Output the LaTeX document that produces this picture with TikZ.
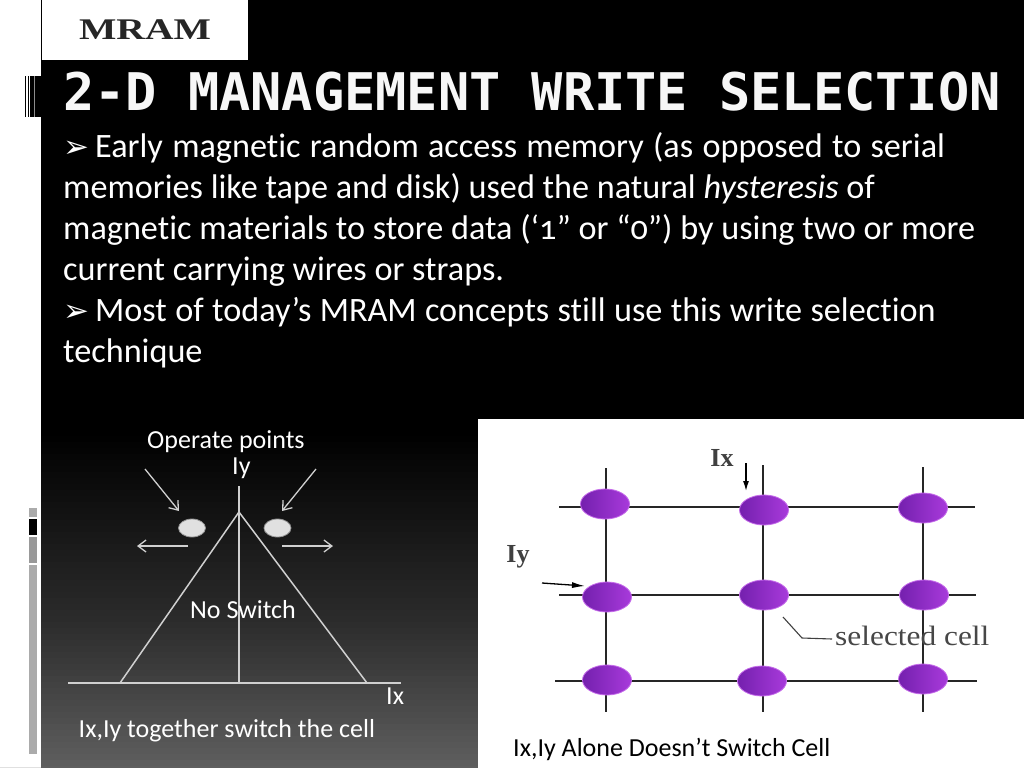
\documentclass[tikz,border=0pt]{standalone}
\usepackage{fontspec}
\setmainfont{Carlito}[Ligatures=CommonOff,Numbers=OldStyle]
\newfontfamily\titlefont{DejaVu Sans Mono}[BoldFont={DejaVu Sans Mono Bold}]
\newfontfamily\logofont{Liberation Serif}
\newfontfamily\symfont{DejaVu Sans}
\usetikzlibrary{arrows.meta,shapes.geometric}
\definecolor{grline}{HTML}{D0D0D0}
\definecolor{celldark}{HTML}{7420AE}
\definecolor{celllight}{HTML}{A83ADB}
\definecolor{celledge}{HTML}{C56BEA}
\newcommand{\bul}{\makebox[32pt][l]{\symfont\fontsize{31}{41}\selectfont ➢}}
\tikzset{
  x=1pt,y=-1pt,
  body/.style={anchor=base west,text=white,inner sep=0,font=\fontsize{34.2}{41}\selectfont},
  small/.style={anchor=base west,text=white,inner sep=0,font=\fontsize{26}{28}\selectfont},
  darktext/.style={anchor=base west,text=black,inner sep=0,font=\fontsize{26}{28}\selectfont},
  figline/.style={draw=grline,line width=1.5pt},
  figarrow/.style={draw=grline,line width=1.3pt,-{Straight Barb[length=8pt,width=12pt]}},
  opdot/.style={ellipse,draw=gray!85,line width=.8pt,fill=black!12,minimum width=27pt,minimum height=18pt,inner sep=0},
  wire/.style={draw=black!85,line width=1.2pt},
  cell/.style={ellipse,draw=celledge,line width=.8pt,left color=celldark,right color=celllight,minimum width=49pt,minimum height=30pt,inner sep=0},
  serifl/.style={text=black!75,inner sep=0,font=\logofont\bfseries\fontsize{26}{26}\selectfont},
}
\begin{document}
\begin{tikzpicture}
\useasboundingbox (0,0) rectangle (1024,768);
\fill[white] (0,0) rectangle (1024,768);
\fill[black!12] (0,766.5) rectangle (41,768);
% slide background
\fill[black] (41,0) rectangle (1024,768);
\foreach \y in {430,436,...,766}{
  \pgfmathsetmacro{\lev}{(\y<620 ? (\y-430)*0.232 : 44+(\y-620)*0.351)/2.55}
  \fill[white!\lev!black] (41,\y) rectangle (1024,768);
}
% logo
\fill[white] (42,0) rectangle (248,60);
\node[text=black!85,font=\logofont\bfseries\fontsize{30}{30}\selectfont,inner sep=0,xscale=1.32] (logo) at (145,30) {MRAM};
% left strip
\fill[black] (25,76) rectangle (26,117);
\fill[black] (27.5,76) rectangle (28.5,117);
\fill[black] (29.5,76) rectangle (33.5,117);
\fill[black!45] (34,76) rectangle (35,117);
\fill[black] (35,76) rectangle (41,117);
\fill[black!33] (28.5,508) rectangle (37,517);
\fill[black] (28.5,519) rectangle (37,534.5);
\fill[black!40] (28.5,537) rectangle (37,562.5);
\fill[black!33] (28.5,565) rectangle (37,754);
% title
\node[anchor=base west,inner sep=0,text=black!3,font=\titlefont\bfseries\fontsize{51.9}{52}\selectfont] (title) at (63,110) {2-D MANAGEMENT WRITE SELECTION};
% body
\node[body] (l1) at (63,157) {\spaceskip=9.3pt\bul Early magnetic random access memory (as opposed to serial};
\node[body] (l2) at (63,198) {memories like tape and disk) used the natural \textit{hysteresis} of};
\node[body] (l3) at (63,239) {magnetic materials to store data (‘1” or “0”) by using two or more};
\node[body] (l4) at (63,280) {current carrying wires or straps.};
\node[body] (l5) at (63,321) {\spaceskip=8.4pt\bul Most of today’s MRAM concepts still use this write selection};
\node[body] (l6) at (63,362) {technique};
% left figure
\node[small] (op) at (147,448) {Operate points};
\node[small] (iy) at (232,474) {Iy};
\coordinate (apex) at (239,512);
\coordinate (top) at (239,486);
\coordinate (orig) at (239,683);
\coordinate (bl) at (120,683);
\coordinate (br) at (367,683);
\coordinate (axl) at (68,683);
\coordinate (axr) at (401,683);
\draw[figline] (top) -- (orig);
\draw[figline] (axl) -- (axr);
\draw[figline] (bl) -- (apex) -- (br);
\node[opdot] (d1) at (192,528) {};
\node[opdot] (d2) at (277.5,528) {};
\coordinate (a1s) at (145,469);
\coordinate (a1e) at (179,511);
\coordinate (a2s) at (316,469);
\coordinate (a2e) at (282,511);
\coordinate (a3s) at (188,546);
\coordinate (a3e) at (137,546);
\coordinate (a4s) at (282,546);
\coordinate (a4e) at (333,546);
\draw[figarrow] (a1s) -- (a1e);
\draw[figarrow] (a2s) -- (a2e);
\draw[figarrow] (a3s) -- (a3e);
\draw[figarrow] (a4s) -- (a4e);
\node[small] (ns) at (190,618) {No Switch};
\node[small] (ix) at (386,704) {Ix};
\node[small] (cap1) at (78.5,737) {Ix,Iy together switch the cell};
% right figure
\fill[white] (478,419) rectangle (1024,768);
\coordinate (v1t) at (606,468); \coordinate (v1b) at (606,712);
\coordinate (v2t) at (763,465); \coordinate (v2b) at (763,712);
\coordinate (v3t) at (923,467); \coordinate (v3b) at (923,712);
\coordinate (h1l) at (559,507); \coordinate (h1r) at (975,507);
\coordinate (h2l) at (559,595); \coordinate (h2r) at (976,595);
\coordinate (h3l) at (555,681); \coordinate (h3r) at (977,681);
\draw[wire] (v1t) -- (v1b);
\draw[wire] (v2t) -- (v2b);
\draw[wire] (v3t) -- (v3b);
\draw[wire] (h1l) -- (h1r);
\draw[wire] (h2l) -- (h2r);
\draw[wire] (h3l) -- (h3r);
\foreach \n/\cx/\cy in {a/605/504,b/764/510,c/923/508,d/607/597,e/764/595,f/924/595,g/607/680,h/762/681,i/923/679}{
  \node[cell] (c\n) at (\cx,\cy) {};
}
\node[serifl] (lix) at (722,458) {Ix};
\node[serifl] (liy) at (518,557) {Iy};
\coordinate (ixs) at (746,463);
\coordinate (ixe) at (746,491);
\coordinate (iys) at (542,583);
\coordinate (iye) at (585,586);
\draw[black,line width=1.3pt,-{Latex[length=10pt,width=6pt]}] (ixs) -- (ixe);
\draw[black,line width=1.3pt,-{Latex[length=13pt,width=6pt]}] (iys) -- (iye);
\node[serifl,anchor=base west,xscale=1.12,font=\logofont\fontsize{28}{28}\selectfont,text=black!72] (sel) at (835,645) {selected cell};
\coordinate (p1) at (783,617);
\coordinate (p2) at (802,638);
\coordinate (p3) at (832,639);
\draw[black!75,line width=1.1pt] (p1) -- (p2) -- (p3);
\node[darktext] (cap2) at (513,756) {Ix,Iy Alone Doesn’t Switch Cell};
\end{tikzpicture}
\end{document}
